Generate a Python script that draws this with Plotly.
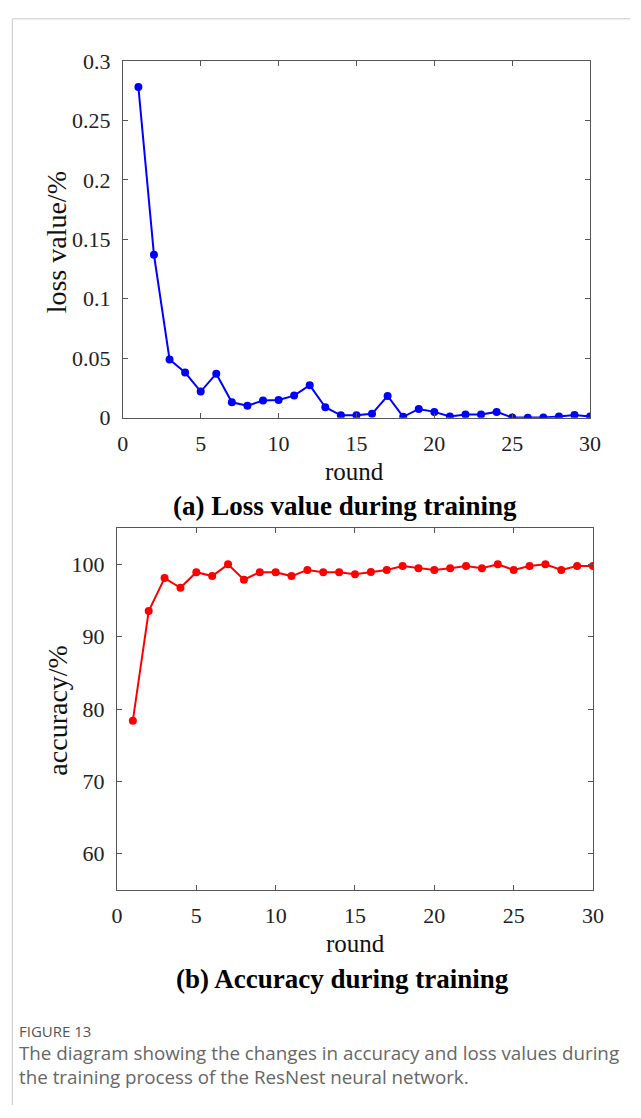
import plotly.graph_objects as go

rounds = list(range(1, 31))
loss_values = [0.278, 0.137, 0.049, 0.038, 0.022, 0.037, 0.013, 0.010, 0.0145, 0.015,
               0.0186, 0.0274, 0.0088, 0.002, 0.002, 0.0033, 0.0183, 0.0008, 0.0074, 0.0049,
               0.0011, 0.0027, 0.0027, 0.0049, 0.0002, 0.0, 0.0002, 0.0011, 0.0022, 0.0011]
accuracy_values = [78.4, 93.55, 98.1, 96.76, 98.92, 98.38, 100.0, 97.88, 98.92, 98.92,
                   98.38, 99.23, 98.92, 98.92, 98.65, 98.96, 99.23, 99.77, 99.46, 99.23,
                   99.46, 99.77, 99.46, 100.0, 99.23, 99.77, 100.0, 99.23, 99.77, 99.77]
x_ticks = [0, 5, 10, 15, 20, 25, 30]
loss_ticks = [0, 0.05, 0.1, 0.15, 0.2, 0.25, 0.3]
loss_tick_text = ["0", "0.05", "0.1", "0.15", "0.2", "0.25", "0.3"]
acc_ticks = [60, 70, 80, 90, 100]

W, H = 641, 1118
def px(x):
    return x / W
def py(y):
    return 1 - y / H

SERIF = "Liberation Serif, Times New Roman, serif"
SANS = "Open Sans, sans-serif"
AXCOL = "#555555"

fig = go.Figure()
fig.add_trace(go.Scatter(x=rounds, y=loss_values, mode="lines+markers",
                         line=dict(color="#0000FF", width=2),
                         marker=dict(color="#0000FF", size=8),
                         xaxis="x", yaxis="y", showlegend=False))
fig.add_trace(go.Scatter(x=rounds, y=accuracy_values, mode="lines+markers",
                         line=dict(color="#FF0000", width=2),
                         marker=dict(color="#FF0000", size=8),
                         xaxis="x2", yaxis="y2", showlegend=False))

common = dict(showline=True, linecolor=AXCOL, linewidth=1, mirror="ticks",
              ticks="inside", ticklen=5, tickcolor=AXCOL, tickwidth=1,
              showgrid=False, zeroline=False,
              tickfont=dict(family=SERIF, size=22, color="#222222"))

fig.update_layout(
    width=W, height=H,
    margin=dict(l=0, r=0, t=0, b=0),
    paper_bgcolor="white", plot_bgcolor="white",
    xaxis=dict(domain=[px(120), px(600)], range=[0, 30], tickvals=x_ticks,
               anchor="y", ticklabelstandoff=6, **common),
    yaxis=dict(domain=[py(415), py(50)], range=[0, 0.3], tickvals=loss_ticks,
               ticktext=loss_tick_text, anchor="x", ticklabelstandoff=7, **common),
    xaxis2=dict(domain=[px(114), px(603)], range=[0, 30], tickvals=x_ticks,
                anchor="y2", ticklabelstandoff=6, **common),
    yaxis2=dict(domain=[py(898), py(528)], range=[55, 105], tickvals=acc_ticks,
                anchor="x2", ticklabelstandoff=7, **common),
)

annots = [
    dict(text="loss value/%", x=px(52), y=py(236), textangle=-90,
         font=dict(family=SERIF, size=28, color="#111111")),
    dict(text="round", x=px(358), y=py(470),
         font=dict(family=SERIF, size=25, color="#111111")),
    dict(text="<b>(a) Loss value during training</b>", x=px(348), y=py(505),
         font=dict(family=SERIF, size=27, color="#000000")),
    dict(text="accuracy/%", x=px(52), y=py(714), textangle=-90,
         font=dict(family=SERIF, size=28, color="#111111")),
    dict(text="round", x=px(359), y=py(953),
         font=dict(family=SERIF, size=25, color="#111111")),
    dict(text="<b>(b) Accuracy during training</b>", x=px(346), y=py(989),
         font=dict(family=SERIF, size=27, color="#000000")),
]
for a in annots:
    fig.add_annotation(xref="paper", yref="paper", showarrow=False,
                       xanchor="center", yanchor="middle", **a)

fig.add_annotation(xref="paper", yref="paper", showarrow=False, xanchor="left",
                   yanchor="middle", x=px(11), y=py(1042), text="FIGURE 13",
                   font=dict(family=SANS, size=15, color="#555555"))
fig.add_annotation(xref="paper", yref="paper", showarrow=False, xanchor="left",
                   yanchor="middle", align="left", x=px(11), y=py(1077),
                   text="The diagram showing the changes in accuracy and loss values during"
                        "<br>the training process of the ResNest neural network.",
                   font=dict(family=SANS, size=18.8, color="#666666"))

fig.add_shape(type="path", xref="paper", yref="paper",
              path=f"M {px(6.5)} {py(1118)} L {px(6.5)} {py(7)} L {px(641)} {py(7)}",
              line=dict(color="#c8c8c8", width=1))

fig.write_html("out.html")
